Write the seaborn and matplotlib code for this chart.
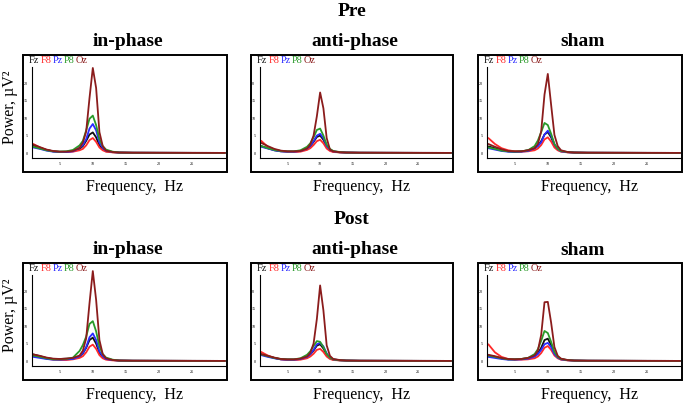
import numpy as np
import pandas as pd
import matplotlib
matplotlib.use("Agg")
import matplotlib.pyplot as plt
import seaborn as sns
from matplotlib.patches import Rectangle

freqs = [1, 2, 3, 4, 5, 6, 7, 8, 8.5, 9, 9.5, 10, 10.5, 11, 11.5, 12, 13, 14, 16, 20, 25, 30]
tail = [0.15, 0.1, 0.08, 0.06, 0.05]

channels = ["Fz", "F8", "Pz", "P8", "Oz"]
colors = {"Fz": "#111111", "F8": "#ff2a2a", "Pz": "#2a2aff", "P8": "#2a9a2a", "Oz": "#8b1c1c"}

pre_inphase = {
    "Fz": [2.2, 1.5, 0.9, 0.5, 0.4, 0.4, 0.6, 1.2, 2.0, 3.5, 5.3, 5.9, 4.5, 2.2, 1.1, 0.5, 0.25] + tail,
    "F8": [2.6, 1.6, 0.9, 0.5, 0.3, 0.3, 0.4, 0.8, 1.2, 2.2, 3.7, 4.3, 3.2, 1.6, 0.8, 0.4, 0.2] + tail,
    "Pz": [1.6, 1.2, 0.7, 0.4, 0.3, 0.3, 0.5, 1.5, 2.3, 4.0, 7.0, 8.3, 6.5, 3.0, 1.5, 0.7, 0.3] + tail,
    "P8": [1.8, 1.3, 0.8, 0.5, 0.4, 0.5, 0.9, 2.2, 3.5, 6.5, 9.8, 10.7, 8.0, 4.0, 2.0, 1.0, 0.4] + tail,
    "Oz": [2.4, 1.7, 1.0, 0.6, 0.4, 0.4, 0.6, 1.5, 3.0, 6.2, 15.7, 24.3, 18.6, 6.0, 2.0, 0.7, 0.3] + tail,
}
pre_antiphase = {
    "Fz": [2.0, 1.4, 0.8, 0.5, 0.4, 0.4, 0.6, 1.3, 2.0, 3.2, 4.6, 5.0, 3.8, 1.9, 0.9, 0.4, 0.2] + tail,
    "F8": [3.5, 1.8, 1.0, 0.6, 0.4, 0.3, 0.4, 0.9, 1.4, 2.3, 3.4, 3.8, 2.8, 1.3, 0.6, 0.3, 0.2] + tail,
    "Pz": [1.8, 1.3, 0.8, 0.5, 0.4, 0.4, 0.6, 1.3, 2.1, 3.4, 5.0, 5.5, 4.3, 2.1, 1.0, 0.5, 0.25] + tail,
    "P8": [2.0, 1.4, 0.9, 0.6, 0.5, 0.5, 0.8, 1.8, 2.8, 4.5, 6.6, 7.0, 5.0, 2.4, 1.2, 0.6, 0.3] + tail,
    "Oz": [2.9, 2.0, 1.2, 0.7, 0.5, 0.5, 0.6, 1.3, 2.5, 5.0, 10.5, 17.3, 12.8, 4.3, 1.0, 0.5, 0.25] + tail,
}
pre_sham = {
    "Fz": [1.9, 1.4, 0.8, 0.5, 0.4, 0.5, 0.8, 1.3, 2.1, 3.4, 5.3, 6.0, 4.5, 2.2, 1.0, 0.5, 0.25] + tail,
    "F8": [4.3, 2.6, 1.4, 0.8, 0.5, 0.4, 0.5, 0.8, 1.3, 2.3, 3.9, 4.5, 3.3, 1.6, 0.8, 0.4, 0.2] + tail,
    "Pz": [1.4, 1.0, 0.6, 0.4, 0.3, 0.4, 0.6, 1.4, 2.0, 3.1, 5.3, 6.4, 5.0, 2.5, 1.2, 0.5, 0.25] + tail,
    "P8": [1.6, 1.2, 0.7, 0.5, 0.4, 0.5, 0.8, 2.0, 3.6, 6.0, 8.6, 8.0, 5.5, 2.6, 1.2, 0.6, 0.3] + tail,
    "Oz": [2.6, 1.8, 1.1, 0.6, 0.5, 0.5, 0.8, 1.4, 2.6, 6.2, 16.7, 22.6, 13.8, 5.2, 2.0, 0.8, 0.3] + tail,
}
post_inphase = {
    "Fz": [1.9, 1.4, 0.9, 0.6, 0.6, 0.7, 0.7, 1.3, 2.2, 3.8, 6.0, 6.7, 5.0, 2.4, 1.2, 0.6, 0.3] + tail,
    "F8": [1.5, 1.1, 0.7, 0.4, 0.3, 0.3, 0.5, 0.9, 1.4, 2.5, 4.1, 4.7, 3.5, 1.7, 0.8, 0.4, 0.2] + tail,
    "Pz": [1.2, 0.9, 0.6, 0.4, 0.4, 0.5, 0.6, 1.4, 2.3, 4.0, 6.8, 7.9, 6.0, 2.8, 1.4, 0.6, 0.3] + tail,
    "P8": [1.6, 1.2, 0.8, 0.5, 0.5, 0.6, 1.0, 2.9, 4.6, 7.0, 10.6, 11.4, 8.5, 4.2, 2.0, 1.0, 0.4] + tail,
    "Oz": [1.9, 1.5, 1.0, 0.7, 0.6, 0.7, 0.9, 1.6, 3.0, 6.5, 16.5, 25.7, 17.5, 6.0, 2.0, 0.8, 0.3] + tail,
}
post_antiphase = {
    "Fz": [1.9, 1.4, 0.9, 0.5, 0.4, 0.4, 0.6, 1.2, 1.9, 3.0, 4.4, 4.8, 3.6, 1.8, 0.9, 0.4, 0.2] + tail,
    "F8": [2.6, 1.6, 0.9, 0.5, 0.3, 0.3, 0.4, 0.8, 1.3, 2.1, 3.2, 3.5, 2.6, 1.3, 0.6, 0.3, 0.2] + tail,
    "Pz": [1.7, 1.2, 0.8, 0.5, 0.4, 0.4, 0.6, 1.2, 2.0, 3.2, 4.8, 5.2, 4.2, 2.2, 1.0, 0.5, 0.25] + tail,
    "P8": [1.9, 1.4, 0.9, 0.6, 0.5, 0.5, 0.8, 1.8, 2.8, 4.3, 5.7, 5.5, 4.0, 2.0, 1.0, 0.5, 0.25] + tail,
    "Oz": [2.0, 1.5, 1.0, 0.6, 0.5, 0.5, 0.7, 1.3, 2.4, 5.0, 12.0, 21.6, 14.5, 4.5, 1.5, 0.6, 0.3] + tail,
}
post_sham = {
    "Fz": [1.6, 1.2, 0.8, 0.5, 0.5, 0.6, 0.8, 1.4, 2.2, 3.8, 6.0, 6.4, 4.6, 2.2, 1.0, 0.5, 0.25] + tail,
    "F8": [4.8, 2.5, 1.2, 0.6, 0.4, 0.4, 0.5, 0.8, 1.3, 2.3, 3.8, 4.3, 3.2, 1.6, 0.8, 0.4, 0.2] + tail,
    "Pz": [1.2, 0.9, 0.6, 0.4, 0.4, 0.5, 0.7, 1.3, 2.0, 3.2, 4.8, 5.2, 4.0, 2.0, 1.0, 0.5, 0.25] + tail,
    "P8": [1.6, 1.2, 0.8, 0.5, 0.5, 0.6, 0.9, 2.0, 3.4, 5.8, 8.6, 8.0, 5.5, 2.6, 1.2, 0.6, 0.3] + tail,
    "Oz": [1.8, 1.4, 0.9, 0.6, 0.5, 0.6, 0.9, 1.6, 3.0, 7.5, 16.8, 16.9, 11.0, 4.0, 1.5, 0.7, 0.3] + tail,
}

row_titles = ["Pre", "Post"]
col_titles = ["in-phase", "anti-phase", "sham"]
panels = [[pre_inphase, pre_antiphase, pre_sham],
          [post_inphase, post_antiphase, post_sham]]
xticks = [5, 10, 15, 20, 25]
yticks = [0, 5, 10, 15, 20]

sns.set_style("white")
plt.rcParams["font.family"] = ["Liberation Serif", "DejaVu Serif"]
plt.rcParams["text.color"] = "black"

W, H = 686, 408
fig = plt.figure(figsize=(W / 100, H / 100), dpi=100)

col_x = [(23, 204), (251, 202), (478, 204)]
row_y = [(55, 117), (263, 117)]

for r, (top, h) in enumerate(row_y):
    fig.text(352 / W, 1 - (top - 43) / H, row_titles[r], ha="center", va="center",
             fontsize=14, fontweight="bold")
    fig.text(10 / W, 1 - (top + 52) / H, "Power, µV²", rotation=90,
             ha="center", va="center", fontsize=11.5)
    for c, (left, w) in enumerate(col_x):
        ax = fig.add_axes([left / W, 1 - (top + h) / H, w / W, h / H])
        data = panels[r][c]
        df = pd.DataFrame([
            {"freq": f, "power": p, "channel": ch}
            for ch in channels for f, p in zip(freqs, data[ch])
        ])
        sns.lineplot(data=df, x="freq", y="power", hue="channel",
                     hue_order=channels, palette=colors, linewidth=1.3,
                     legend=False, ax=ax)
        ax.set_xlim(-0.56, 30.3)
        ax.set_ylim(-5.4, 28)
        ax.set_xlabel("")
        ax.set_ylabel("")
        for s in ["top", "right"]:
            ax.spines[s].set_visible(False)
        ax.spines["left"].set_position(("data", 0.75))
        ax.spines["left"].set_bounds(-1.4, 24.6)
        ax.spines["bottom"].set_position(("data", -1.4))
        ax.spines["bottom"].set_bounds(0.75, 30.2)
        for s in ["left", "bottom"]:
            ax.spines[s].set_linewidth(0.8)
            ax.spines[s].set_color("black")
        ax.set_xticks(xticks)
        ax.set_xticks(np.arange(1, 31, 1), minor=True)
        ax.set_yticks(yticks)
        ax.tick_params(axis="both", which="major", labelsize=3, length=2,
                       width=0.6, pad=1, direction="out", colors="black")
        ax.tick_params(axis="x", which="minor", length=2, width=0.6,
                       direction="inout", colors="black")
        ax.add_patch(Rectangle((0, 0), 1, 1, transform=ax.transAxes, fill=False,
                               lw=1.4, ec="black", clip_on=False))

        # channel legend as coloured words
        prev = ax.text(0.03, 0.99, channels[0], transform=ax.transAxes,
                       ha="left", va="top", fontsize=7.5, color=colors[channels[0]])
        for ch in channels[1:]:
            prev = ax.annotate(ch, xy=(1, 0), xycoords=prev, xytext=(0.8, 0),
                               textcoords="offset points", ha="left", va="bottom",
                               fontsize=7.5, color=colors[ch])

        fig.text((left + w / 2 + 10) / W, 1 - (top + 132) / H, "Frequency,  Hz",
                 ha="center", va="center", fontsize=11.5)
        fig.text((left + w / 2 + 3) / W, 1 - (top - 13) / H, col_titles[c],
                 ha="center", va="center", fontsize=14, fontweight="bold")

fig.savefig("out.png", dpi=100)
